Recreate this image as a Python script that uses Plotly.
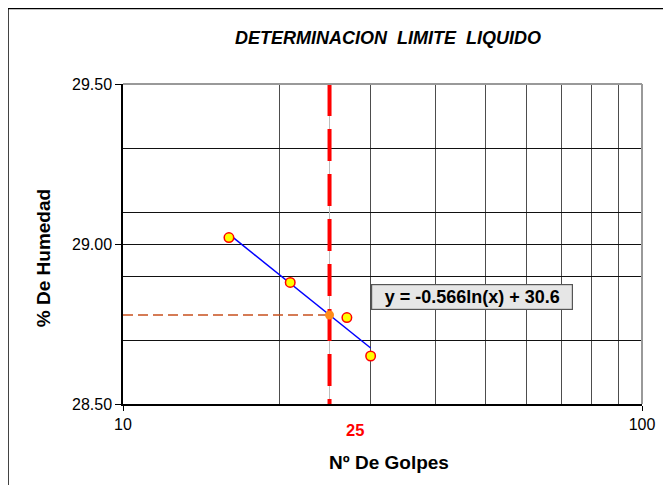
import math
import plotly.graph_objects as go

# ---- data ----
golpes = [16, 21, 27, 30]
humedad = [29.02, 28.88, 28.77, 28.65]
slope = -0.566
intercept = 30.6
n_ref = 25
x_ticks = [10, 100]
x_ticktext = ["10", "100"]
x_grid = [20, 30, 40, 50, 60, 70, 80, 90]
y_ticks = [28.5, 29.0, 29.5]
y_ticktext = ["28.50", "29.00", "29.50"]
y_grid = [28.7, 28.9, 29.1, 29.3]
y_range = [28.5, 29.5]
x_range = [10, 100]

ll = slope * math.log(n_ref) + intercept
FONT = "Liberation Sans, Arial, sans-serif"

fig = go.Figure()

# thin gray reference line at 25
fig.add_trace(go.Scatter(x=[n_ref, n_ref], y=y_range, mode="lines",
                         line=dict(color="#bdbdbd", width=1), hoverinfo="skip"))
# red dashed vertical line at 25
fig.add_trace(go.Scatter(x=[n_ref, n_ref], y=[y_range[1], y_range[0]], mode="lines",
                         line=dict(color="#ff0000", width=4, dash="32px,13px"), hoverinfo="skip"))
# horizontal orange dashed line
fig.add_trace(go.Scatter(x=[x_range[0], n_ref], y=[ll, ll], mode="lines",
                         line=dict(color="#c8501e", width=1.5, dash="10px,5px"), hoverinfo="skip"))
# trend line
tx = [min(golpes), max(golpes)]
ty = [slope * math.log(v) + intercept for v in tx]
fig.add_trace(go.Scatter(x=tx, y=ty, mode="lines",
                         line=dict(color="#0000ff", width=1.5), hoverinfo="skip"))
# intersection point
fig.add_trace(go.Scatter(x=[n_ref], y=[ll], mode="markers",
                         marker=dict(color="#ff8c1a", size=9, line=dict(width=0))))
# data points
fig.add_trace(go.Scatter(x=golpes, y=humedad, mode="markers",
                         marker=dict(color="#ffff00", size=9.5, line=dict(color="#ff0000", width=1.5))))

# plot area top/right border
fig.add_shape(type="line", xref="paper", yref="paper", x0=0, x1=1, y0=1, y1=1,
              line=dict(color="#999999", width=2))
fig.add_shape(type="line", xref="paper", yref="paper", x0=1, x1=1, y0=0, y1=1,
              line=dict(color="#999999", width=2))
# outer chart border (top and left edges)
fig.add_shape(type="line", xref="paper", yref="paper", x0=-0.2216, x1=1.1, y0=1.236, y1=1.236,
              line=dict(color="#000000", width=1.5))
fig.add_shape(type="line", xref="paper", yref="paper", x0=-0.2216, x1=-0.2216, y0=-0.3, y1=1.236,
              line=dict(color="#000000", width=1.5))

ann = dict(xref="paper", yref="paper", showarrow=False, xanchor="center", yanchor="middle")
fig.add_annotation(text="<b><i>DETERMINACION  LIMITE  LIQUIDO</i></b>", x=0.5106, y=1.1427,
                   font=dict(family=FONT, size=18, color="black"), **ann)
fig.add_annotation(text="<b>Nº De Golpes</b>", x=0.5125, y=-0.184,
                   font=dict(family=FONT, size=19, color="black"), **ann)
fig.add_annotation(text="<b>% De Humedad</b>", x=-0.154, y=0.456, textangle=-90,
                   font=dict(family=FONT, size=19, color="black"), **ann)
fig.add_annotation(text="<b>%d</b>" % n_ref, x=0.447, y=-0.081,
                   font=dict(family=FONT, size=16.5, color="#ff0000"), **ann)
fig.add_annotation(text="<b>y = %.3fln(x) + %.1f</b>" % (slope, intercept), x=0.672, y=0.334,
                   font=dict(family=FONT, size=18, color="black"),
                   bgcolor="#e6e6e6", bordercolor="#555555", borderwidth=1.2, borderpad=2,
                   width=196, **ann)

fig.update_layout(
    width=663, height=477,
    margin=dict(l=115, r=29, t=76, b=81),
    paper_bgcolor="white", plot_bgcolor="white",
    showlegend=False,
    font=dict(family=FONT, size=15, color="black"),
    xaxis=dict(type="log", range=[math.log10(x_range[0]), math.log10(x_range[1])],
               tickvals=x_ticks, ticktext=x_ticktext, ticks="outside", ticklen=5,
               tickcolor="black", showgrid=False, showline=True, linecolor="black",
               linewidth=1.5, zeroline=False, tickfont=dict(size=16),
               minor=dict(tickvals=x_grid, showgrid=True, gridcolor="#4d4d4d", gridwidth=1.3, ticks="")),
    yaxis=dict(range=y_range, tickvals=y_ticks, ticktext=y_ticktext, ticks="outside", ticklen=6,
               tickcolor="black", showgrid=True, gridcolor="#111111", gridwidth=1.2,
               showline=True, linecolor="black", linewidth=1.5, zeroline=False,
               tickfont=dict(size=16),
               minor=dict(tickvals=y_grid, showgrid=True, gridcolor="#111111", gridwidth=1.2, ticks="")),
)

fig.write_html("out.html")
